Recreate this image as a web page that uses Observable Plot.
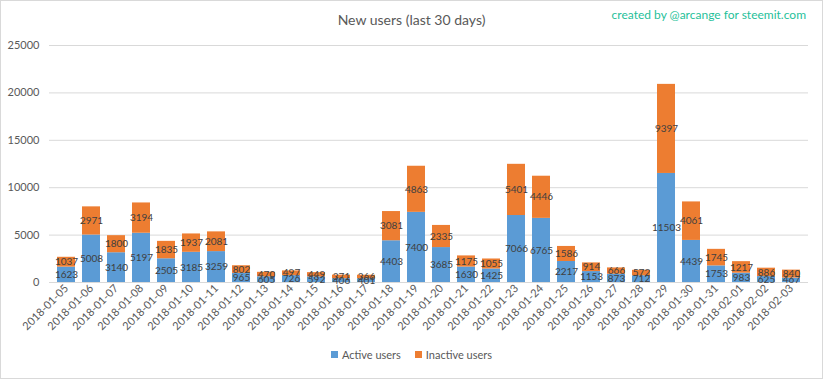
<!DOCTYPE html>
<html>
<head>
<meta charset="utf-8">
<script src="https://cdn.jsdelivr.net/npm/d3@7"></script>
<script src="https://cdn.jsdelivr.net/npm/@observablehq/plot@0.6"></script>
<style>
  html, body { margin: 0; padding: 0; background: #fff; }
  #frame { position: relative; width: 821px; height: 377px; border: 1px solid #d9d9d9; overflow: hidden; font-family: Lato, "Open Sans", sans-serif; }
  #head { position: relative; height: 35px; }
  #title { position: absolute; left: 0; right: 0; top: 10px; text-align: center; font-size: 14px; color: #595959; }
  #credit { position: absolute; right: 16px; top: 6px; font-size: 12px; color: #1fbf9a; }
  #legend { display: flex; justify-content: center; gap: 14px; font-size: 11px; color: #595959; margin-top: 4px; }
  #legend span.sw { display: inline-block; width: 7px; height: 7px; margin-right: 4px; }
  #legend div { display: flex; align-items: center; }
</style>
</head>
<body>
<div id="frame">
  <div id="head">
    <div id="title">New users (last 30 days)</div>
    <div id="credit">created by @arcange for steemit.com</div>
  </div>
  <div id="chart"></div>
  <div id="legend"></div>
</div>
<script>
const dates = ["2018-01-05","2018-01-06","2018-01-07","2018-01-08","2018-01-09","2018-01-10","2018-01-11","2018-01-12","2018-01-13","2018-01-14","2018-01-15","2018-01-16","2018-01-17","2018-01-18","2018-01-19","2018-01-20","2018-01-21","2018-01-22","2018-01-23","2018-01-24","2018-01-25","2018-01-26","2018-01-27","2018-01-28","2018-01-29","2018-01-30","2018-01-31","2018-02-01","2018-02-02","2018-02-03"];
const activeUsers = [1623,5008,3140,5197,2505,3185,3259,965,605,726,592,406,401,4403,7400,3685,1630,1425,7066,6765,2217,1153,873,712,11503,4439,1753,983,625,467];
const inactiveUsers = [1037,2971,1800,3194,1835,1937,2081,802,470,497,449,371,366,3081,4863,2335,1175,1055,5401,4446,1586,914,666,572,9397,4061,1745,1217,886,840];
const seriesNames = ["Active users", "Inactive users"];
const seriesColors = ["#5b9bd5", "#ed7d31"];
const yTicks = [0, 5000, 10000, 15000, 20000, 25000];

const data = [];
dates.forEach((d, i) => {
  data.push({date: d, series: seriesNames[0], value: activeUsers[i]});
  data.push({date: d, series: seriesNames[1], value: inactiveUsers[i]});
});

const chart = Plot.plot({
  width: 821,
  height: 308,
  marginTop: 9,
  marginBottom: 62,
  marginLeft: 48,
  marginRight: 14,
  style: {fontFamily: "Lato, 'Open Sans', sans-serif", background: "transparent"},
  x: {domain: dates, paddingInner: 0.29, paddingOuter: 0.145, label: null},
  y: {domain: [0, 25000], label: null},
  color: {domain: seriesNames, range: seriesColors},
  marks: [
    Plot.gridY(yTicks, {stroke: "#d9d9d9", strokeOpacity: 1}),
    Plot.barY(data, Plot.stackY({x: "date", y: "value", z: "series", fill: "series", order: seriesNames})),
    Plot.text(data, Plot.stackY({x: "date", y: "value", z: "series", order: seriesNames, text: d => String(d.value), fill: "#404040", fontSize: 10})),
    Plot.axisY({ticks: yTicks, tickSize: 0, tickPadding: 10, fontSize: 11, color: "#595959", tickFormat: d => String(d), label: null}),
    Plot.axisX({tickSize: 0, tickRotate: -45, tickPadding: 4, fontSize: 11, color: "#595959", label: null})
  ]
});
document.getElementById("chart").appendChild(chart);

const legend = document.getElementById("legend");
seriesNames.forEach((name, i) => {
  const item = document.createElement("div");
  const sw = document.createElement("span");
  sw.className = "sw";
  sw.style.background = seriesColors[i];
  item.appendChild(sw);
  item.appendChild(document.createTextNode(name));
  legend.appendChild(item);
});
</script>
</body>
</html>
